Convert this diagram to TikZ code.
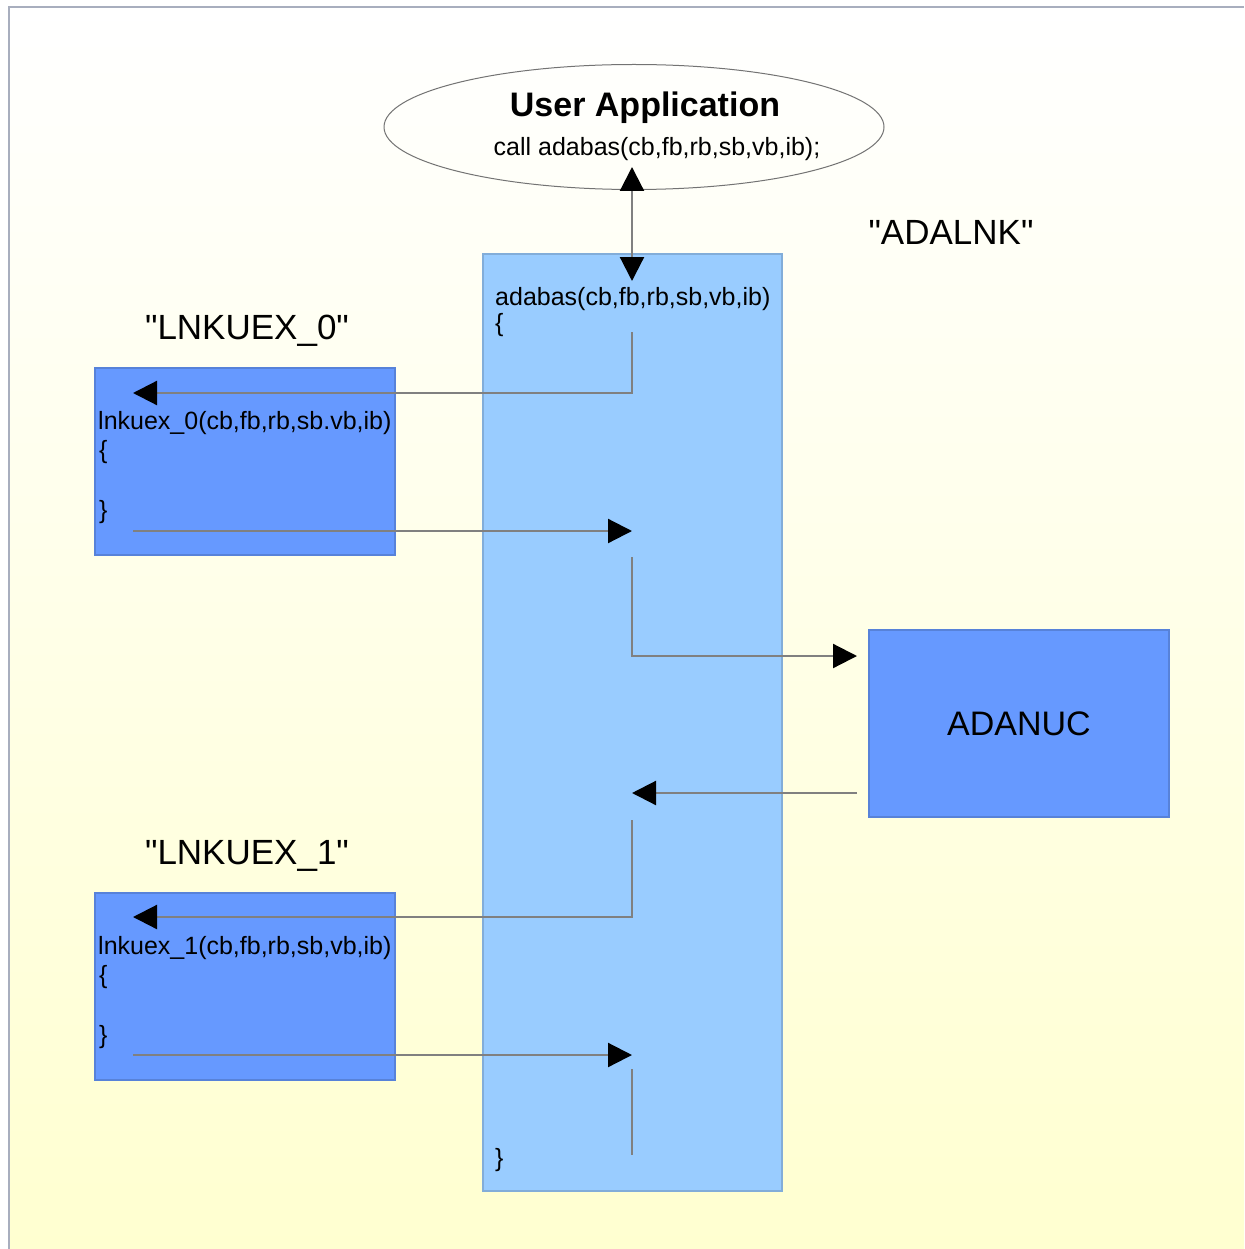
\documentclass[tikz,border=0pt]{standalone}
\usepackage{fontspec}
\setmainfont{Liberation Sans}
\usetikzlibrary{arrows.meta,shapes.geometric}

\definecolor{linkblue}{HTML}{99CCFF}
\definecolor{exitblue}{HTML}{6699FF}
\definecolor{bgyellow}{HTML}{FFFFD0}
\definecolor{framegray}{HTML}{A8AEBE}

\tikzset{
	exitbox/.style={draw=exitblue!85!black,fill=exitblue,line width=1.2pt,minimum width=300pt,minimum height=187pt,inner sep=0pt},
	code/.style={anchor=west,inner sep=0pt,font=\fontsize{25}{29}\selectfont},
	tag/.style={inner sep=0pt,font=\fontsize{35}{40}\selectfont},
	flow/.style={draw=black!50,line width=2.2pt},
	tip/.style={-{Triangle[length=24pt,width=24pt,color=black]}}
}

\begin{document}
\begin{tikzpicture}[x=1pt,y=-1pt]
		\useasboundingbox (0,0) rectangle (1244,1249);
		\shade[top color=white,bottom color=bgyellow] (9,7) rectangle (1244,1249);
		\draw[framegray,line width=2.5pt] (9,1249)--(9,7)--(1244,7);

		\node (app) at(634,127)[ellipse,draw=black!55,line width=1pt,minimum width=500pt,minimum height=125pt]{};
		\node (apptitle) at(645,108)[inner sep=0pt,font=\bfseries\fontsize{34}{40}\selectfont]{User Application};
		\node (appcall) at(657,149)[code,anchor=center]{call adabas(cb,fb,rb,sb,vb,ib);};

		\node (adalnk) at(632.5,722.5)[draw=linkblue!85!black,fill=linkblue,line width=1.2pt,minimum width=299pt,minimum height=937pt,inner sep=0pt]{};
		\node (adalnktag) at(951,232)[tag]{\textquotedbl ADALNK\textquotedbl};
		\node (adalnkhead) at(495,299)[code]{adabas(cb,fb,rb,sb,vb,ib)};
		\node (adalnkopen) at(495,325)[code]{\{};
		\node (adalnkclose) at(495,1160)[code]{\}};

		\node (adanuc) at(1019,723.5)[exitbox,font=\fontsize{34}{40}\selectfont]{ADANUC};

		\foreach \i/\y/\args in {0/0/{cb,fb,rb,sb.vb,ib},1/525/{cb,fb,rb,sb,vb,ib}}{
			\node (lnk\i) at(245,461.5+\y)[exitbox]{};
			\node (lnktag\i) at(247,331+\y)[tag]{\textquotedbl LNKUEX\_\i\textquotedbl};
			\node (lnkhead\i) at(98,423+\y)[code]{lnkuex\_\i(\args)};
			\node (lnkopen\i) at(99,452+\y)[code]{\{};
			\node (lnkclose\i) at(99,512+\y)[code]{\}};
		}

		% connectors
		\coordinate (callup) at(632,167);
		\coordinate (calldown) at(632,281);
		\draw[flow,{Triangle[length=24pt,width=24pt,color=black]}-{Triangle[length=24pt,width=24pt,color=black]}] (callup)--(calldown);
		\foreach \i/\y/\top in {0/0/332,1/524/820}{
			\coordinate (out\i) at(632,\top);
			\coordinate (in\i) at(133,393+\y);
			\coordinate (ret\i) at(133,531+\y);
			\coordinate (back\i) at(632,531+\y);
			\draw[flow,tip] (out\i)|-(in\i);
			\draw[flow,tip] (ret\i)--(back\i);
		}
		\coordinate (nucout) at(632,557);
		\coordinate (nucin) at(857,656);
		\coordinate (nucret) at(857,793);
		\coordinate (nucback) at(632,793);
		\coordinate (endtop) at(632,1069);
		\coordinate (endbot) at(632,1155);
		\draw[flow,tip] (nucout)|-(nucin);
		\draw[flow,tip] (nucret)--(nucback);
		\draw[flow] (endtop)--(endbot);
	\end{tikzpicture}
\end{document}
